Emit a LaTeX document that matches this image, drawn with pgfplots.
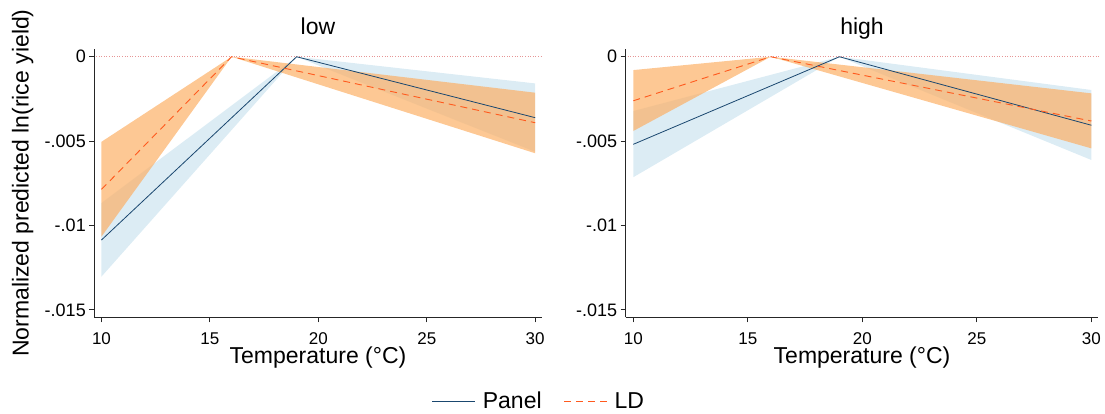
\documentclass[border=0pt]{standalone}
\usepackage{fontspec}
\setmainfont{Liberation Sans}
\usepackage{pgfplots}
\pgfplotsset{compat=1.18}
\definecolor{navyline}{RGB}{26,71,111}
\definecolor{ldline}{RGB}{255,90,30}
\definecolor{blueband}{RGB}{220,236,244}
\definecolor{orangeband}{RGB}{252,176,102}
\definecolor{refline}{RGB}{230,150,150}
\pgfplotsset{
  panelstyle/.style={
    scale only axis,
    height=268.3pt,
    xmin=9.67, xmax=30.3,
    ymin=-0.01544, ymax=0.00046,
    axis x line*=bottom, axis y line*=left,
    axis line style={-, black!85, line width=0.9pt},
    tick align=outside,
    major tick length=5pt,
    tick style={black!85, line width=0.8pt},
    xtick={10,15,20,25,30},
    ytick={-0.015,-0.01,-0.005,0},
    yticklabels={-.015,-.01,-.005,0},
    scaled y ticks=false,
    /pgf/number format/assume math mode=true,
    yticklabel style={font=\fontsize{18}{20}\selectfont},
    xticklabel style={font=\fontsize{17}{19}\selectfont, anchor=base, inner sep=0pt, yshift=-22.5pt},
    xlabel={Temperature (°C)},
    xlabel style={font=\fontsize{23}{26}\selectfont, inner sep=0pt, at={(axis description cs:0.5,0)}, anchor=base, yshift=-46pt},
    title style={font=\fontsize{23}{26}\selectfont, at={(axis description cs:0.5,1)}, anchor=base, yshift=8pt},
    clip=false,
  },
  band/.style={draw=none, forget plot},
}
\begin{document}
\begin{tikzpicture}
\useasboundingbox (0,0) rectangle (1105pt,414pt);
% ---------------- low ----------------
\begin{axis}[panelstyle, at={(94.3pt,96.7pt)}, anchor=south west, width=447.4pt,
  title={low},
  ylabel={Normalized predicted ln(rice yield)},
  ylabel style={font=\fontsize{23}{26}\selectfont, at={(axis description cs:-0.1598,0.5)}, anchor=center},
  legend columns=2,
  legend style={draw=none, fill=none, at={(axis description cs:0.994,-0.312)}, anchor=center,
    font=\fontsize{23}{26}\selectfont,
    /tikz/every even column/.append style={column sep=20pt}},
  legend image code/.code={\draw[#1] (0pt,0pt) -- (43pt,0pt); \path (48pt,0pt);},
]
\addplot[refline, dotted, line width=0.6pt, forget plot] coordinates {(9.75,0) (30.3,0)};
\addplot[band, fill=blueband] coordinates {(10,-0.00867) (19,0) (30,-0.00158) (30,-0.00563) (19,0) (10,-0.01303)} -- cycle;
\addplot[band, fill=orangeband, fill opacity=0.7] coordinates {(10,-0.00504) (16,0) (30,-0.00213) (30,-0.00572) (16,0) (10,-0.01066)} -- cycle;
\addplot[navyline, line width=0.8pt] coordinates {(10,-0.01086) (19,0) (30,-0.00361)};
\addlegendentry{Panel}
\addplot[ldline, line width=0.9pt, dash pattern=on 7pt off 5pt] coordinates {(10,-0.00786) (16,0) (30,-0.00391)};
\addlegendentry{LD}
\end{axis}
% ---------------- high ----------------
\begin{axis}[panelstyle, at={(625.7pt,96.7pt)}, anchor=south west, width=472.6pt,
  title={high},
]
\addplot[refline, dotted, line width=0.6pt, forget plot] coordinates {(9.75,0) (30.3,0)};
\addplot[band, fill=blueband] coordinates {(10,-0.00322) (19,0) (30,-0.00197) (30,-0.00612) (19,0) (10,-0.00714)} -- cycle;
\addplot[band, fill=orangeband, fill opacity=0.7] coordinates {(10,-0.00079) (16,0) (30,-0.00217) (30,-0.00543) (16,0) (10,-0.0044)} -- cycle;
\addplot[navyline, line width=0.8pt] coordinates {(10,-0.00519) (19,0) (30,-0.00406)};
\addplot[ldline, line width=0.9pt, dash pattern=on 7pt off 5pt] coordinates {(10,-0.00261) (16,0) (30,-0.00381)};
\end{axis}
\end{tikzpicture}
\end{document}
